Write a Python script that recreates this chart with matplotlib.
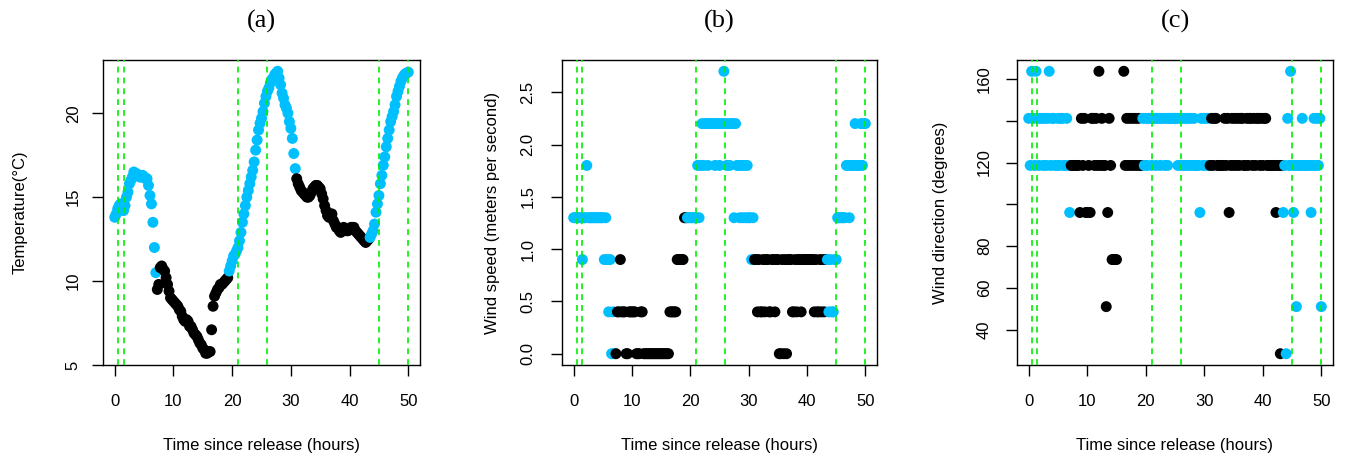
import numpy as np
import matplotlib
matplotlib.use('Agg')
import matplotlib.pyplot as plt

plt.rcParams['font.family'] = ['Liberation Sans', 'DejaVu Sans']

# ---- data: one reading every 15 minutes, 0 .. 50 h after release ----
temperature = [
    13.8, 14.0, 14.3, 14.5,   # 0 h
    14.6, 14.6, 14.2, 14.5,   # 1
    15.0, 15.3, 15.8, 16.0,   # 2
    16.2, 16.5, 16.4, 16.4,   # 3
    16.3, 16.2, 16.2, 16.3,   # 4
    16.2, 16.1, 16.1, 15.7,   # 5
    15.1, 14.6, 13.5, 12.0,   # 6
    10.5, 9.5, 9.8, 10.8,     # 7
    10.9, 10.7, 10.6, 10.2,   # 8
    9.8, 9.4, 9.0, 8.9,       # 9
    8.8, 8.7, 8.6, 8.5,       # 10
    8.3, 8.2, 7.9, 7.7,       # 11
    7.6, 7.7, 7.6, 7.3,       # 12
    7.3, 7.1, 6.9, 6.8,       # 13
    6.7, 6.5, 6.3, 6.2,       # 14
    6.0, 5.9, 5.7, 5.7,       # 15
    5.8, 5.8, 7.1, 8.5,       # 16
    9.1, 9.3, 9.5, 9.6,       # 17
    9.8, 9.8, 9.9, 10.0,      # 18
    10.1, 10.2, 10.6, 10.9,   # 19
    11.2, 11.5, 11.6, 11.8,   # 20
    12.0, 12.4, 12.9, 13.5,   # 21
    14.0, 14.5, 15.0, 15.4,   # 22
    15.8, 16.2, 16.6, 17.1,   # 23
    17.8, 18.4, 19.0, 19.4,   # 24
    19.7, 20.1, 20.6, 21.0,   # 25
    21.3, 21.5, 21.8, 22.0,   # 26
    22.1, 22.3, 22.4, 22.5,   # 27
    22.1, 21.7, 21.2, 20.9,   # 28
    20.5, 20.3, 20.0, 19.5,   # 29
    19.1, 18.5, 17.6, 16.7,   # 30
    16.1, 15.8, 15.6, 15.4,   # 31
    15.3, 15.2, 15.1, 15.0,   # 32
    15.0, 15.1, 15.3, 15.5,   # 33
    15.6, 15.7, 15.7, 15.6,   # 34
    15.5, 15.2, 14.9, 14.5,   # 35
    14.2, 13.9, 13.8, 14.0,   # 36
    14.0, 13.6, 13.4, 13.2,   # 37
    13.2, 13.0, 12.9, 13.1,   # 38
    13.2, 13.1, 13.0, 13.0,   # 39
    13.1, 13.2, 13.2, 13.2,   # 40
    13.0, 12.9, 12.8, 12.7,   # 41
    12.6, 12.5, 12.4, 12.3,   # 42
    12.4, 12.5, 12.6, 12.8,   # 43
    13.0, 13.4, 14.1, 14.6,   # 44
    15.1, 15.8, 16.3, 16.9,   # 45
    17.4, 18.0, 18.5, 19.0,   # 46
    19.5, 19.8, 20.1, 20.5,   # 47
    21.0, 21.3, 21.6, 21.9,   # 48
    22.1, 22.25, 22.35, 22.4, # 49
    22.45,                    # 50
]

wind_speed = [
    1.3, 1.3, 1.3, 1.3,   # 0 h
    1.3, 1.3, 0.9, 1.3,   # 1
    1.3, 1.8, 1.3, 1.3,   # 2
    1.3, 1.3, 1.3, 1.3,   # 3
    1.3, 1.3, 1.3, 1.3,   # 4
    1.3, 0.9, 1.3, 0.9,   # 5
    0.4, 0.9, 0.0, 0.4,   # 6
    0.0, 0.0, 0.4, 0.4,   # 7
    0.9, 0.4, 0.4, 0.4,   # 8
    0.0, 0.0, 0.4, 0.4,   # 9
    0.4, 0.4, 0.4, 0.0,   # 10
    0.0, 0.0, 0.4, 0.4,   # 11
    0.0, 0.0, 0.0, 0.0,   # 12
    0.0, 0.0, 0.0, 0.0,   # 13
    0.0, 0.0, 0.0, 0.0,   # 14
    0.0, 0.0, 0.0, 0.0,   # 15
    0.0, 0.0, 0.4, 0.4,   # 16
    0.4, 0.4, 0.4, 0.9,   # 17
    0.9, 0.9, 0.9, 0.9,   # 18
    1.3, 1.3, 1.3, 1.3,   # 19
    1.3, 1.3, 1.3, 1.3,   # 20
    1.3, 1.8, 1.3, 1.8,   # 21
    2.2, 1.8, 2.2, 2.2,   # 22
    1.8, 2.2, 2.2, 2.2,   # 23
    2.2, 1.8, 2.2, 2.2,   # 24
    1.8, 2.2, 2.2, 2.7,   # 25
    2.2, 1.8, 2.2, 1.8,   # 26
    2.2, 2.2, 1.3, 2.2,   # 27
    1.8, 1.8, 1.3, 1.8,   # 28
    1.3, 1.8, 1.3, 1.8,   # 29
    1.3, 1.3, 0.9, 1.3,   # 30
    0.9, 0.9, 0.4, 0.9,   # 31
    0.4, 0.4, 0.9, 0.4,   # 32
    0.9, 0.9, 0.4, 0.4,   # 33
    0.9, 0.9, 0.4, 0.9,   # 34
    0.9, 0.0, 0.0, 0.9,   # 35
    0.0, 0.9, 0.0, 0.9,   # 36
    0.9, 0.9, 0.4, 0.4,   # 37
    0.9, 0.4, 0.9, 0.9,   # 38
    0.4, 0.9, 0.9, 0.9,   # 39
    0.9, 0.9, 0.9, 0.9,   # 40
    0.9, 0.4, 0.9, 0.4,   # 41
    0.4, 0.9, 0.4, 0.9,   # 42
    0.4, 0.9, 0.9, 0.4,   # 43
    0.9, 0.4, 0.4, 0.9,   # 44
    0.9, 1.3, 1.3, 1.3,   # 45
    1.3, 1.3, 1.3, 1.8,   # 46
    1.8, 1.3, 1.8, 1.8,   # 47
    1.8, 2.2, 1.8, 1.8,   # 48
    1.8, 2.2, 1.8, 2.2,   # 49
    2.2,                  # 50
]

nan = float('nan')
wind_direction = [
    141.1, 118.6, 163.6, 141.1,   # 0 h
    118.6, 163.6, 141.1, 118.6,   # 1
    141.1, 141.1, 118.6, 141.1,   # 2
    118.6, 141.1, 163.6, 118.6,   # 3
    141.1, 141.1, 118.6, 118.6,   # 4
    141.1, 118.6, 141.1, 141.1,   # 5
    118.6, 118.6, 141.1, 118.6,   # 6
    96.1, 118.6, 118.6, 118.6,    # 7
    118.6, 118.6, 118.6, 96.1,    # 8
    141.1, 118.6, 141.1, 96.1,    # 9
    96.1, 118.6, 96.1, 141.1,     # 10
    141.1, 118.6, 141.1, 118.6,   # 11
    163.6, 118.6, 141.1, 118.6,   # 12
    118.6, 51.1, 96.1, 141.1,     # 13
    118.6, 73.6, 73.6, 73.6,      # 14
    73.6, nan, nan, nan,          # 15
    nan, 163.6, 118.6, 141.1,     # 16
    118.6, 141.1, 118.6, 141.1,   # 17
    118.6, 141.1, 118.6, 141.1,   # 18
    118.6, 118.6, 141.1, 118.6,   # 19
    141.1, 118.6, 141.1, 141.1,   # 20
    118.6, 141.1, 141.1, 118.6,   # 21
    141.1, 141.1, 118.6, 141.1,   # 22
    141.1, 118.6, 141.1, 118.6,   # 23
    141.1, 141.1, 141.1, 141.1,   # 24
    141.1, 141.1, 118.6, 141.1,   # 25
    118.6, 141.1, 118.6, 141.1,   # 26
    118.6, 141.1, 118.6, 141.1,   # 27
    118.6, 141.1, 118.6, 118.6,   # 28
    118.6, 96.1, 141.1, 118.6,    # 29
    141.1, 118.6, 141.1, 118.6,   # 30
    118.6, 141.1, 118.6, 141.1,   # 31
    141.1, 118.6, 118.6, 118.6,   # 32
    118.6, 118.6, 141.1, 118.6,   # 33
    141.1, 96.1, 118.6, 141.1,    # 34
    118.6, 141.1, 118.6, 141.1,   # 35
    118.6, 141.1, 141.1, 118.6,   # 36
    118.6, 141.1, 118.6, 141.1,   # 37
    141.1, 118.6, 141.1, 118.6,   # 38
    141.1, 141.1, 118.6, 141.1,   # 39
    118.6, 141.1, 141.1, 118.6,   # 40
    118.6, 118.6, 118.6, 118.6,   # 41
    118.6, 96.1, 118.6, 118.6,    # 42
    28.6, 118.6, 96.1, 118.6,     # 43
    28.6, 141.1, 118.6, 163.6,    # 44
    118.6, 96.1, 118.6, 51.1,     # 45
    118.6, 118.6, 118.6, 141.1,   # 46
    118.6, 118.6, 118.6, 118.6,   # 47
    118.6, 96.1, 118.6, 141.1,    # 48
    118.6, 141.1, 118.6, 141.1,   # 49
    51.1,                         # 50
]

sample_step_hours = 0.25
day_periods = [(0.0, 7.0), (19.5, 30.75), (43.5, 50.0)]   # drawn in light blue
event_lines = [0.5, 1.5, 21, 26, 45, 50]
panel_titles = ['(a)', '(b)', '(c)']
y_labels = ['Temperature(\u00b0C)', 'Wind speed (meters per second)',
            'Wind direction (degrees)']
x_label = 'Time since release (hours)'
x_ticks = [0, 10, 20, 30, 40, 50]
temp_ticks = [5, 10, 15, 20]
temp_tick_labels = ['5', '10', '15', '20']
speed_ticks = [0.0, 0.5, 1.0, 1.5, 2.0, 2.5]
speed_tick_labels = ['0.0', '0.5', '1.0', '1.5', '2.0', '2.5']
dir_ticks = [40, 60, 80, 100, 120, 140, 160]
dir_tick_labels = ['40', '60', '80', '', '120', '', '160']

assert len(temperature) == len(wind_speed) == len(wind_direction) == 201

hours = np.arange(len(temperature)) * sample_step_hours
in_day = np.zeros(len(hours), dtype=bool)
for a, b in day_periods:
    in_day |= (hours >= a - 1e-9) & (hours <= b + 1e-9)
colors = np.where(in_day, '#00BFFF', '#000000')

W, H = 1347, 465
fig = plt.figure(figsize=(W / 100, H / 100), dpi=100)

boxes = [(103, 420), (562, 877), (1017, 1333)]
top_px, bottom_px = 60, 365
ylab_x_px = [20, 492, 941]
ytick_pad = [8, 11, 10]

series = [temperature, wind_speed, wind_direction]
yticks = [(temp_ticks, temp_tick_labels), (speed_ticks, speed_tick_labels),
          (dir_ticks, dir_tick_labels)]

for i in range(3):
    l, r = boxes[i]
    ax = fig.add_axes([l / W, (H - bottom_px) / H, (r - l) / W, (bottom_px - top_px) / H])
    y = np.array(series[i], dtype=float)
    ax.scatter(hours, y, c=colors, s=62, linewidths=0, zorder=2)
    for xv in event_lines:
        ax.axvline(xv, color='#00F000', lw=1.2, linestyle=(0, (3.5, 3.0)), zorder=3)
    xr = hours.max() - hours.min()
    ax.set_xlim(hours.min() - 0.04 * xr, hours.max() + 0.04 * xr)
    ymin, ymax = np.nanmin(y), np.nanmax(y)
    yr = ymax - ymin
    ax.set_ylim(ymin - 0.04 * yr, ymax + 0.04 * yr)
    ax.set_xticks(x_ticks)
    ax.set_xticklabels([str(t) for t in x_ticks])
    ax.set_yticks(yticks[i][0])
    ax.set_yticklabels(yticks[i][1])
    ax.tick_params(axis='both', direction='out', length=8, width=1.0,
                   labelsize=12, color='black')
    ax.tick_params(axis='x', pad=13)
    ax.tick_params(axis='y', pad=ytick_pad[i], labelrotation=90)
    for lab in ax.get_yticklabels():
        lab.set_va('center')
    for sp in ax.spines.values():
        sp.set_linewidth(1.0)
        sp.set_color('black')
    ax.set_xlabel(x_label, fontsize=12)
    ax.xaxis.set_label_coords(0.5, (bottom_px - 445) / (bottom_px - top_px))
    ax.xaxis.label.set_va('center')
    ax.set_ylabel(y_labels[i], fontsize=12)
    ax.yaxis.set_label_coords((ylab_x_px[i] - l) / (r - l), 0.5)
    ax.yaxis.label.set_va('center')
    ax.text(0.5, 1 + (top_px - 21) / (bottom_px - top_px), panel_titles[i],
            transform=ax.transAxes, ha='center', va='center',
            fontfamily=['Liberation Serif', 'DejaVu Serif'], fontsize=19)

fig.savefig('out.png', dpi=100)
